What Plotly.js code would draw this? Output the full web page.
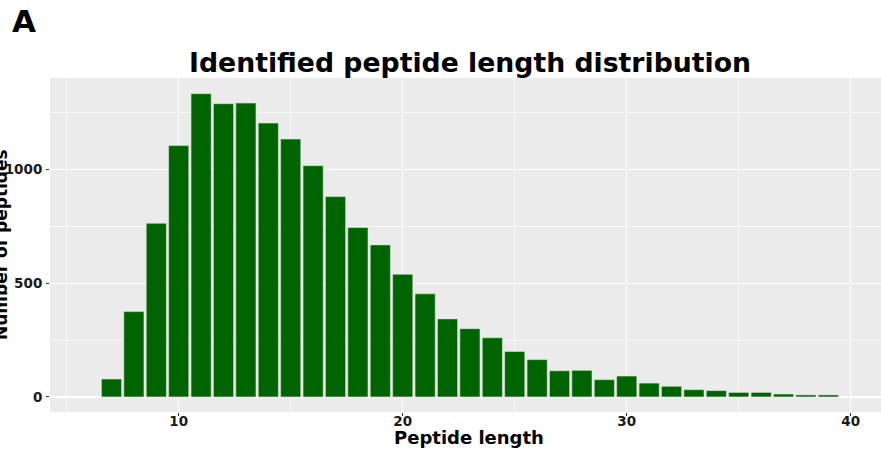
<!DOCTYPE html>
<html>
<head>
<meta charset="utf-8">
<script src="https://cdn.plot.ly/plotly-3.0.1.min.js"></script>
<style>html,body{margin:0;padding:0;background:#fff;}#chart{width:881px;height:451px;}</style>
</head>
<body>
<div id="chart"></div>
<script>
const peptideLength = [7,8,9,10,11,12,13,14,15,16,17,18,19,20,21,22,23,24,25,26,27,28,29,30,31,32,33,34,35,36,37,38,39];
const peptideCount  = [79,375,763,1104,1332,1288,1291,1203,1133,1016,880,744,668,539,453,343,300,260,200,164,115,117,76,92,61,47,32,28,20,20,13,9,9];
const xTickVals = [10,20,30,40];
const yTickVals = [0,500,1000];
const titleText = "Identified peptide length distribution";
const xTitle = "Peptide length";
const yTitle = "Number of peptides";
const panelLabel = "A";

const F = "DejaVu Sans, sans-serif";
const trace = {
  type: 'bar',
  x: peptideLength,
  y: peptideCount,
  width: 0.9,
  marker: {color: '#006400', line: {color: '#e0e0e0', width: 0.6}},
  hoverinfo: 'x+y'
};
const layout = {
  width: 881, height: 451,
  margin: {l: 50, r: 0, t: 78, b: 39},
  paper_bgcolor: '#ffffff',
  plot_bgcolor: '#ebebeb',
  showlegend: false,
  bargap: 0,
  font: {family: F, color: '#000'},
  title: {
    text: '<b>' + titleText + '</b>',
    font: {family: F, size: 26.7, color: '#000'},
    xref: 'paper', x: 0.5 + 4.5/831, xanchor: 'center',
    yref: 'container', y: 1 - 63/451, yanchor: 'middle'
  },
  xaxis: {
    range: [4.255, 41.35],
    tickmode: 'array', tickvals: xTickVals, ticktext: xTickVals.map(v => '<b>' + v + '</b>'),
    ticks: 'outside', ticklen: 3, tickcolor: '#333', tickwidth: 1,
    ticklabelstandoff: -6,
    tickfont: {family: F, size: 13.5, color: '#1a1a1a'},
    showgrid: true, gridcolor: '#ffffff', gridwidth: 1.2,
    minor: {tickmode: 'array', tickvals: [5,15,25,35], showgrid: true, gridcolor: '#ffffff', gridwidth: 0.6, ticks: ''},
    zeroline: false, showline: false,
    automargin: false
  },
  yaxis: {
    range: [-66, 1401],
    tickmode: 'array', tickvals: yTickVals, ticktext: yTickVals.map(v => '<b>' + v + '</b>'),
    ticks: 'outside', ticklen: 3, tickcolor: '#333', tickwidth: 1,
    ticklabelstandoff: 1,
    tickfont: {family: F, size: 13.5, color: '#1a1a1a'},
    showgrid: true, gridcolor: '#ffffff', gridwidth: 1.2,
    minor: {tickmode: 'array', tickvals: [250,750,1250], showgrid: true, gridcolor: '#ffffff', gridwidth: 0.6, ticks: ''},
    zeroline: false, showline: false,
    automargin: false
  },
  annotations: [
    {text: '<b>' + xTitle + '</b>', xref: 'paper', yref: 'paper', x: 0.5, y: 0,
     xanchor: 'center', yanchor: 'middle', xshift: 3, yshift: -25.5, showarrow: false,
     font: {family: F, size: 18, color: '#000'}},
    {text: '<b>' + yTitle + '</b>', xref: 'paper', yref: 'paper', x: 0, y: 0.5,
     xanchor: 'center', yanchor: 'middle', xshift: -49, textangle: -90, showarrow: false,
     font: {family: F, size: 17, color: '#000'}},
    {text: '<b>' + panelLabel + '</b>', xref: 'paper', yref: 'paper', x: 0, y: 1,
     xanchor: 'left', yanchor: 'top', xshift: -40, yshift: 77, showarrow: false,
     font: {family: F, size: 31, color: '#000'}}
  ]
};
Plotly.newPlot('chart', [trace], layout, {displayModeBar: false, staticPlot: true});
</script>
</body>
</html>
